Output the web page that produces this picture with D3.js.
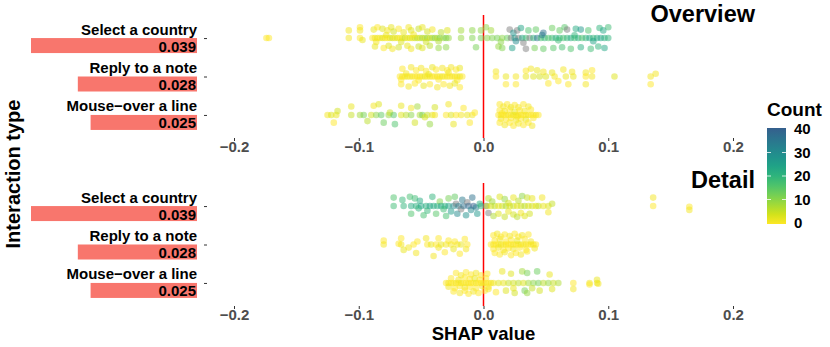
<!DOCTYPE html>
<html>
<head>
<meta charset="utf-8">
<script src="https://cdn.jsdelivr.net/npm/d3@7"></script>
<style>
  body { margin: 0; background: #fff; }
  svg { display: block; font-family: "Liberation Sans", Arial, Helvetica, sans-serif; }
</style>
</head>
<body>
<svg id="chart" width="830" height="347"></svg>
<script>
// categories and mean |SHAP| per interaction type
const categories = ["Select a country", "Reply to a note", "Mouse-over a line"];
const importance = [0.039, 0.028, 0.025];
const panels = ["Overview", "Detail"];
const xTicks = [-0.2, -0.1, 0, 0.1, 0.2];
const countTicks = [0, 10, 20, 30, 40];

// points: [shap value, vertical jitter (fraction of a row), count]
const overviewSelect = [
  [-0.174,0,0],[-0.172,0,0],
  [-0.108,-0.2,1],[-0.099,-0.28,0],[-0.099,-0.2,1],[-0.088,-0.22,2],[-0.085,-0.28,0],[-0.081,-0.24,3],[-0.077,-0.2,1],[-0.074,-0.28,2],
  [-0.072,-0.17,4],[-0.068,-0.24,0],[-0.064,-0.15,2],[-0.060,-0.28,1],[-0.058,-0.2,3],[-0.052,-0.24,5],[-0.049,-0.28,2],[-0.045,-0.17,4],
  [-0.041,-0.22,1],[-0.034,-0.15,6],[-0.029,-0.2,3],
  [-0.108,0,1],[-0.099,0,0],[-0.097,0.05,2],[-0.089,0,0],[-0.087,0,1],[-0.085,0,2],[-0.083,0,0],[-0.081,0,3],[-0.079,0,1],[-0.077,0,0],
  [-0.075,0,2],[-0.073,0,4],[-0.071,0,1],[-0.069,0,3],[-0.067,0,0],[-0.065,0,2],[-0.063,0,5],[-0.061,0,1],[-0.059,0,3],[-0.057,0,2],
  [-0.055,0,4],[-0.053,0,6],[-0.051,0,3],[-0.049,0,8],[-0.047,0,5],[-0.045,0,9],[-0.043,0,4],[-0.041,0,7],[-0.039,0,10],[-0.037,0,6],
  [-0.035,0,11],[-0.032,0,8],[-0.030,0,12],[-0.028,0,9],
  [-0.086,0.1,1],[-0.078,-0.08,2],[-0.066,0.1,3],[-0.056,-0.09,1],[-0.046,0.1,4],[-0.036,0.08,7],
  [-0.087,0.22,2],[-0.080,0.26,0],[-0.076,0.2,3],[-0.073,0.28,1],[-0.068,0.24,4],[-0.061,0.2,2],[-0.058,0.28,1],[-0.052,0.22,5],
  [-0.049,0.26,3],[-0.043,0.2,6],[-0.036,0.26,9],[-0.030,0.24,10],
  [-0.018,-0.2,8],[-0.018,0,9],[-0.009,-0.2,10],[-0.009,0,11],[-0.006,0.24,12],[-0.002,-0.2,10],[-0.002,0,12],
  [0.003,0,10],[0.007,0,11],[0.011,0,12],[0.015,0,10],[0.019,0,13],[0.022,0,46],[0.025,0,26],[0.028,0,48],[0.031,0,24],[0.034,0,18],
  [0.037,0,45],[0.040,0,20],[0.043,0,36],[0.046,0,17],[0.049,0,19],[0.052,0,16],[0.055,0,18],[0.058,0,21],[0.061,0,20],[0.064,0,17],
  [0.067,0,19],[0.070,0,22],[0.073,0,18],[0.076,0,21],[0.079,0,16],[0.082,0,20],[0.085,0,23],[0.088,0,19],[0.091,0,22],[0.094,0,24],
  [0.097,0,21],[0.100,0,20],
  [0.002,-0.28,10],[0.006,-0.2,8],[0.021,-0.22,44],[0.024,-0.14,28],[0.027,-0.2,46],[0.030,-0.26,24],[0.036,-0.2,16],[0.042,-0.22,14],
  [0.048,-0.14,36],[0.055,-0.26,13],[0.061,-0.2,14],[0.065,-0.28,15],[0.067,-0.22,44],[0.074,-0.24,22],[0.078,-0.22,27],[0.084,-0.2,16],
  [0.093,-0.26,20],[0.096,-0.2,23],[0.100,-0.28,18],
  [0.014,0.1,10],[0.026,0.08,30],[0.032,0.12,47],[0.047,-0.08,34],[0.060,0.06,18],[0.073,-0.07,20],[0.088,0.08,24],
  [0.012,0.22,9],[0.015,0.26,11],[0.023,0.26,25],[0.034,0.28,45],[0.041,0.26,12],[0.048,0.28,14],[0.056,0.26,15],[0.063,0.24,17],
  [0.070,0.28,16],[0.078,0.24,21],[0.086,0.28,18],[0.092,0.22,20],[0.097,0.26,23]
];

const overviewReply = [
  [-0.067,0,0],[-0.065,0,1],[-0.063,0,0],[-0.061,0,2],[-0.059,0,0],[-0.057,0,1],[-0.055,0,0],[-0.053,0,0],[-0.051,0,1],[-0.049,0,0],
  [-0.047,0,2],[-0.045,0,0],[-0.043,0,1],[-0.041,0,0],[-0.039,0,0],[-0.037,0,1],[-0.035,0,0],[-0.033,0,2],[-0.031,0,0],[-0.029,0,1],
  [-0.027,0,0],[-0.025,0,0],[-0.023,0,1],[-0.021,0,0],[-0.019,0,2],[-0.017,0,0],
  [-0.065,-0.2,0],[-0.058,-0.24,1],[-0.054,-0.16,0],[-0.050,-0.22,1],[-0.046,-0.14,0],[-0.041,-0.24,2],[-0.038,-0.18,0],[-0.033,-0.22,1],
  [-0.029,-0.16,0],[-0.026,-0.24,1],[-0.022,-0.18,0],[-0.019,-0.22,2],
  [-0.066,0.08,0],[-0.062,-0.08,1],[-0.052,0.1,0],[-0.044,-0.06,2],[-0.036,0.08,0],[-0.028,-0.1,1],[-0.021,0.1,0],
  [-0.066,0.2,0],[-0.060,0.26,1],[-0.055,0.18,0],[-0.048,0.24,2],[-0.043,0.2,0],[-0.037,0.28,1],[-0.032,0.2,0],[-0.027,0.24,1],
  [-0.023,0.18,2],[-0.019,0.28,0],
  [0.010,-0.13,1],[0.010,0,0],[0.018,0,2],[0.018,0.2,0],[0.026,0,1],[0.026,0.2,0],[0.034,-0.15,0],[0.034,0,2],[0.038,-0.2,1],
  [0.040,0,3],[0.043,-0.16,2],[0.045,0,4],[0.048,-0.12,1],[0.050,0,3],[0.052,0.18,0],[0.055,-0.1,2],[0.057,0,1],[0.060,0.12,0],
  [0.064,-0.18,1],[0.066,0,2],[0.068,0.2,0],[0.071,-0.12,1],[0.072,0,2],[0.082,-0.1,1],[0.082,0,0],[0.082,0.2,1],[0.087,-0.16,0],
  [0.087,0,1],[0.105,0,3],[0.134,0,1],[0.134,0.2,0],[0.138,-0.07,1]
];

const overviewMouse = [
  [-0.125,0,1],[-0.122,0,3],[-0.118,0,2],[-0.117,-0.1,4],[-0.120,0.2,0],[-0.106,-0.22,2],[-0.106,0,5],[-0.099,0,8],[-0.096,0,12],
  [-0.093,0.16,6],[-0.090,0,4],[-0.088,-0.24,1],[-0.086,0,10],[-0.084,-0.28,3],[-0.082,0,14],[-0.080,0.2,13],[-0.076,0,9],
  [-0.075,-0.06,5],[-0.072,0,15],[-0.071,0.24,16],[-0.066,-0.24,2],[-0.066,0,3],[-0.062,0,6],[-0.058,-0.18,1],[-0.058,0,10],
  [-0.055,0.2,4],[-0.053,-0.22,8],[-0.051,0,7],[-0.049,0,12],[-0.047,0.06,3],[-0.045,0,5],[-0.043,0.24,9],[-0.041,0,2],
  [-0.039,-0.2,4],[-0.039,0,1],[-0.030,0,0],[-0.028,-0.28,1],[-0.026,0,3],[-0.024,0.24,2],[-0.022,0,0],[-0.018,0,1],
  [-0.016,-0.18,0],[-0.013,0,2],[-0.011,0.2,0],[-0.009,0,1],[-0.007,-0.06,0],
  [0.012,0,0],[0.014,0,1],[0.016,0,0],[0.018,0,0],[0.020,0,1],[0.022,0,0],[0.024,0,2],[0.026,0,0],[0.028,0,0],[0.030,0,1],
  [0.032,0,0],[0.034,0,0],[0.036,0,1],[0.038,0,0],[0.040,0,0],[0.042,0,1],[0.044,0,0],
  [0.013,-0.28,0],[0.016,-0.22,1],[0.019,-0.28,0],[0.022,-0.2,2],[0.025,-0.26,0],[0.028,-0.2,1],[0.032,-0.28,0],[0.036,-0.22,1],
  [0.013,-0.12,0],[0.017,-0.1,1],[0.021,-0.14,0],[0.025,-0.08,2],[0.029,-0.12,0],[0.033,-0.1,1],[0.038,-0.14,0],
  [0.014,0.1,1],[0.018,0.12,0],[0.022,0.08,0],[0.026,0.14,1],[0.030,0.1,0],[0.034,0.12,2],[0.040,0.08,0],
  [0.013,0.2,0],[0.017,0.26,1],[0.021,0.2,0],[0.024,0.28,0],[0.028,0.22,1],[0.032,0.26,0],[0.036,0.2,0],[0.039,0.28,1],
  [0.015,-0.04,0],[0.027,0.04,1]
];

const detailSelect = [
  [-0.072,-0.22,16],[-0.072,0,18],[-0.065,-0.16,19],[-0.064,0,20],[-0.059,-0.24,17],[-0.058,0,22],[-0.058,0.2,16],[-0.055,-0.2,18],
  [-0.054,0,21],[-0.052,0.06,20],[-0.051,-0.14,22],[-0.050,0,23],[-0.048,0.24,17],[-0.046,0,21],[-0.045,0.12,19],[-0.043,0,24],
  [-0.041,-0.24,20],[-0.040,0,22],[-0.038,0.2,15],[-0.037,0,21],[-0.035,-0.12,11],[-0.034,0,23],[-0.032,0.08,18],[-0.031,0,20],
  [-0.030,0.26,17],[-0.028,-0.2,12],[-0.028,0,24],[-0.026,0.14,26],[-0.024,0,30],[-0.023,-0.24,14],[-0.022,-0.06,44],[-0.021,0.2,30],
  [-0.020,0,33],[-0.018,0.08,45],[-0.017,-0.16,34],[-0.016,0,36],[-0.014,0.24,28],[-0.013,-0.1,45],[-0.012,0,38],[-0.010,0.1,30],
  [-0.009,-0.22,36],[-0.008,0,40],[-0.006,0.04,32],[-0.005,0.2,27],[-0.003,-0.06,22],[-0.002,0,20],
  [0.002,0,45],[0.003,0,5],[0.006,0,3],[0.009,0,6],[0.012,0,2],[0.015,0,4],[0.018,0,7],[0.021,0,3],[0.024,0,5],[0.027,0,2],
  [0.030,0,4],[0.033,0,6],[0.036,0,3],[0.039,0,4],[0.042,0,2],[0.044,0,5],
  [0.004,-0.2,6],[0.007,-0.12,8],[0.013,-0.24,3],[0.017,-0.18,9],[0.020,-0.08,4],[0.024,-0.22,2],[0.028,-0.14,6],[0.031,-0.26,10],
  [0.035,-0.22,5],[0.039,-0.2,2],[0.047,-0.22,1],
  [0.004,0.18,46],[0.008,0.26,7],[0.012,0.2,3],[0.017,0.28,5],[0.020,0.14,2],[0.024,0.22,4],[0.027,0.28,6],[0.030,0.18,1],
  [0.033,0.26,3],[0.037,0.2,4],
  [0.048,0,2],[0.052,0,3],[0.052,0.16,1],[0.055,-0.06,5],[0.136,-0.22,1],[0.136,0,0],[0.165,0.02,0],[0.165,0.1,1]
];

const detailReply = [
  [-0.080,-0.1,0],[-0.080,0,1],[-0.066,-0.16,0],[-0.066,0,1],[-0.068,-0.02,0],[-0.064,0.14,2],[-0.060,0.08,1],[-0.056,0,0],
  [-0.054,0.22,1],[-0.053,-0.08,0],[-0.046,-0.16,1],[-0.045,0,0],[-0.042,0,2],[-0.040,0.3,1],[-0.038,0,0],[-0.036,0.08,1],
  [-0.036,-0.16,0],[-0.034,0,2],[-0.031,0.2,0],[-0.030,0,1],[-0.028,-0.1,0],[-0.026,0,1],[-0.024,0.12,2],[-0.023,-0.08,0],
  [-0.021,0,1],[-0.019,0.24,0],[-0.018,0,2],[-0.015,-0.14,0],[-0.014,0.12,1],[-0.013,0,0],
  [0.006,0,0],[0.008,0,1],[0.010,0,0],[0.012,0,0],[0.014,0,2],[0.016,0,0],[0.018,0,1],[0.020,0,0],[0.022,0,0],[0.024,0,1],
  [0.026,0,0],[0.028,0,0],[0.030,0,2],[0.032,0,0],[0.034,0,1],[0.036,0,0],[0.038,0,0],[0.040,0,1],[0.042,0,0],
  [0.008,-0.24,0],[0.011,-0.28,1],[0.014,-0.2,0],[0.017,-0.26,0],[0.021,-0.22,1],[0.025,-0.28,0],[0.028,-0.2,0],[0.031,-0.24,1],
  [0.036,-0.26,0],[0.009,-0.1,0],[0.013,-0.14,1],[0.018,-0.08,0],[0.022,-0.12,0],[0.027,-0.1,2],[0.033,-0.14,0],[0.038,-0.08,1],
  [0.008,0.12,0],[0.012,0.08,1],[0.016,0.14,0],[0.020,0.1,0],[0.024,0.12,1],[0.029,0.08,0],[0.034,0.14,0],[0.041,0.1,1],
  [0.009,0.22,0],[0.013,0.26,0],[0.017,0.2,1],[0.022,0.28,0],[0.026,0.22,0],[0.030,0.26,1],[0.035,0.18,0]
];

const detailMouse = [
  [-0.030,0,0],[-0.028,0,1],[-0.026,0,0],[-0.024,0,0],[-0.022,0,1],[-0.020,0,0],[-0.018,0,2],[-0.016,0,0],[-0.014,0,0],[-0.012,0,1],
  [-0.010,0,0],[-0.008,0,0],[-0.006,0,1],[-0.004,0,0],[-0.002,0,0],[0.000,0,1],[0.002,0,0],[0.004,0,0],[0.006,0,1],
  [-0.022,-0.26,0],[-0.018,-0.2,1],[-0.014,-0.28,0],[-0.010,-0.22,0],[-0.006,-0.26,1],[-0.002,-0.2,0],[0.003,-0.24,0],
  [-0.026,-0.12,0],[-0.020,-0.08,1],[-0.015,-0.14,0],[-0.011,-0.1,0],[-0.007,-0.12,2],[-0.003,-0.08,0],[0.002,-0.12,0],
  [-0.028,0.1,1],[-0.023,0.14,0],[-0.019,0.08,0],[-0.015,0.12,1],[-0.011,0.1,0],[-0.006,0.14,0],[-0.001,0.08,1],[0.004,0.1,0],
  [-0.024,0.22,0],[-0.019,0.26,1],[-0.015,0.2,0],[-0.012,0.28,0],[-0.008,0.22,1],[-0.004,0.26,0],[0.001,0.2,0],
  [0.008,0,1],[0.012,0,3],[0.016,0,2],[0.020,0,5],[0.024,0,4],[0.028,0,6],[0.032,0,3],[0.036,0,8],[0.040,0,10],[0.044,0,12],
  [0.048,0,6],[0.052,0,9],[0.056,0,5],[0.060,0,7],[0.072,0,0],[0.085,0,1],[0.091,0,2],
  [0.015,-0.3,2],[0.022,-0.24,3],[0.031,-0.3,8],[0.035,-0.26,12],[0.043,-0.3,13],[0.053,-0.22,2],
  [0.004,0.16,1],[0.010,0.24,0],[0.018,0.2,3],[0.024,0.14,2],[0.025,0.26,4],[0.033,0.2,12],[0.035,0.26,9],[0.039,0.14,5],
  [0.045,0.2,4],[0.055,0.16,3],[0.072,0.16,1],[0.085,0.04,0],[0.091,-0.08,2],[0.092,0.02,1]
];

const points = {
  "Overview": [overviewSelect, overviewReply, overviewMouse],
  "Detail": [detailSelect, detailReply, detailMouse]
};

var svg = d3.select("#chart");
var font = 15;

// x scale shared by both panels
var x = d3.scaleLinear().domain([-0.2, 0.2]).range([234, 733]);

// bar length scale for importance bars
var barW = d3.scaleLinear().domain([0, 0.039]).range([0, 166]);
var barRight = 197;

// colour: viridis (reversed, trimmed), counts over 40 fall back to grey
var colorT = d3.scaleLinear().domain([0, 40]).range([1, 0.3]);
function color(c) {
  return c > 40 ? "#7f7f7f" : d3.interpolateViridis(colorT(c));
}

var panelRanges = {"Overview": [15, 138], "Detail": [183, 306]};

panels.forEach(function(p) {
  var yr = panelRanges[p];
  var y = d3.scalePoint().domain(categories).range(yr).padding(0.6);
  var step = y.step();
  var g = svg.append("g");

  // y ticks only, labels are drawn by hand above the bars
  g.append("g")
    .attr("transform", "translate(207,0)")
    .call(d3.axisLeft(y).tickSize(3).tickFormat(""))
    .call(a => a.select(".domain").remove())
    .selectAll("line").attr("stroke", "#333");

  // x axis
  g.append("g")
    .attr("transform", "translate(0," + yr[1] + ")")
    .call(d3.axisBottom(x).tickValues(xTicks).tickSize(3).tickPadding(0).tickFormat(d3.format(".1f")))
    .call(a => a.select(".domain").remove())
    .call(a => a.selectAll("line").attr("stroke", "#333"))
    .call(a => a.selectAll("text")
      .attr("fill", "#4d4d4d")
      .attr("font-size", font)
      .attr("font-weight", "bold")
      .attr("font-family", "Liberation Sans, Arial, sans-serif"));

  // importance bars
  g.selectAll(".bar")
    .data(categories)
    .enter().append("rect")
    .attr("x", (d, i) => barRight - barW(importance[i]))
    .attr("y", d => y(d))
    .attr("width", (d, i) => barW(importance[i]))
    .attr("height", 15)
    .attr("fill", "#F8766D");

  g.selectAll(".val")
    .data(categories)
    .enter().append("text")
    .attr("x", barRight - 1)
    .attr("y", d => y(d) + 13.5)
    .attr("text-anchor", "end")
    .attr("font-size", font)
    .attr("font-weight", "bold")
    .text((d, i) => importance[i].toFixed(3));

  g.selectAll(".cat")
    .data(categories)
    .enter().append("text")
    .attr("x", barRight)
    .attr("y", d => y(d) - 3.5)
    .attr("text-anchor", "end")
    .attr("font-size", font)
    .attr("font-weight", "bold")
    .text(d => d.replace("-", "\u2212"));

  // zero line
  g.append("line")
    .attr("x1", x(0)).attr("x2", x(0))
    .attr("y1", yr[0]).attr("y2", yr[1])
    .attr("stroke", "#ff0000")
    .attr("stroke-width", 1.5);

  // points
  categories.forEach(function(cat, i) {
    g.append("g").selectAll("circle")
      .data(points[p][i])
      .enter().append("circle")
      .attr("cx", d => x(d[0]))
      .attr("cy", d => y(cat) + d[1] * step)
      .attr("r", 3.3)
      .attr("fill", d => color(d[2]))
      .attr("fill-opacity", 0.5);
  });

  // panel title
  g.append("text")
    .attr("x", 755)
    .attr("y", p === "Overview" ? 22 : 188)
    .attr("text-anchor", "end")
    .attr("font-size", 23.5)
    .attr("font-weight", "bold")
    .text(p);
});

// axis titles
svg.append("text")
  .attr("x", x(0))
  .attr("y", 340)
  .attr("text-anchor", "middle")
  .attr("font-size", 18.5)
  .attr("font-weight", "bold")
  .text("SHAP value");

svg.append("text")
  .attr("transform", "translate(20,174) rotate(-90)")
  .attr("text-anchor", "middle")
  .attr("font-size", 20)
  .attr("font-weight", "bold")
  .text("Interaction type");

// colour legend
var ly = d3.scaleLinear().domain([0, 40]).range([223, 129]);
var grad = svg.append("defs").append("linearGradient")
  .attr("id", "countGrad")
  .attr("x1", 0).attr("y1", 1).attr("x2", 0).attr("y2", 0);
d3.range(0, 41, 4).forEach(function(c) {
  grad.append("stop").attr("offset", c / 40).attr("stop-color", color(c));
});

svg.append("text")
  .attr("x", 767)
  .attr("y", 116)
  .attr("font-size", 19)
  .attr("font-weight", "bold")
  .text("Count");

svg.append("rect")
  .attr("x", 767).attr("y", ly(40) - 1)
  .attr("width", 19).attr("height", ly(0) - ly(40) + 2)
  .attr("fill", "url(#countGrad)");

var lg = svg.append("g");
lg.selectAll(".tl")
  .data(countTicks.slice(1, 4))
  .enter().append("path")
  .attr("d", d => "M767," + ly(d) + "h4M782," + ly(d) + "h4")
  .attr("stroke", "#fff")
  .attr("stroke-width", 0.8);

lg.selectAll(".lab")
  .data(countTicks)
  .enter().append("text")
  .attr("x", 794)
  .attr("y", d => ly(d))
  .attr("dy", "0.36em")
  .attr("font-size", font)
  .attr("font-weight", "bold")
  .text(d => d);
</script>
</body>
</html>
